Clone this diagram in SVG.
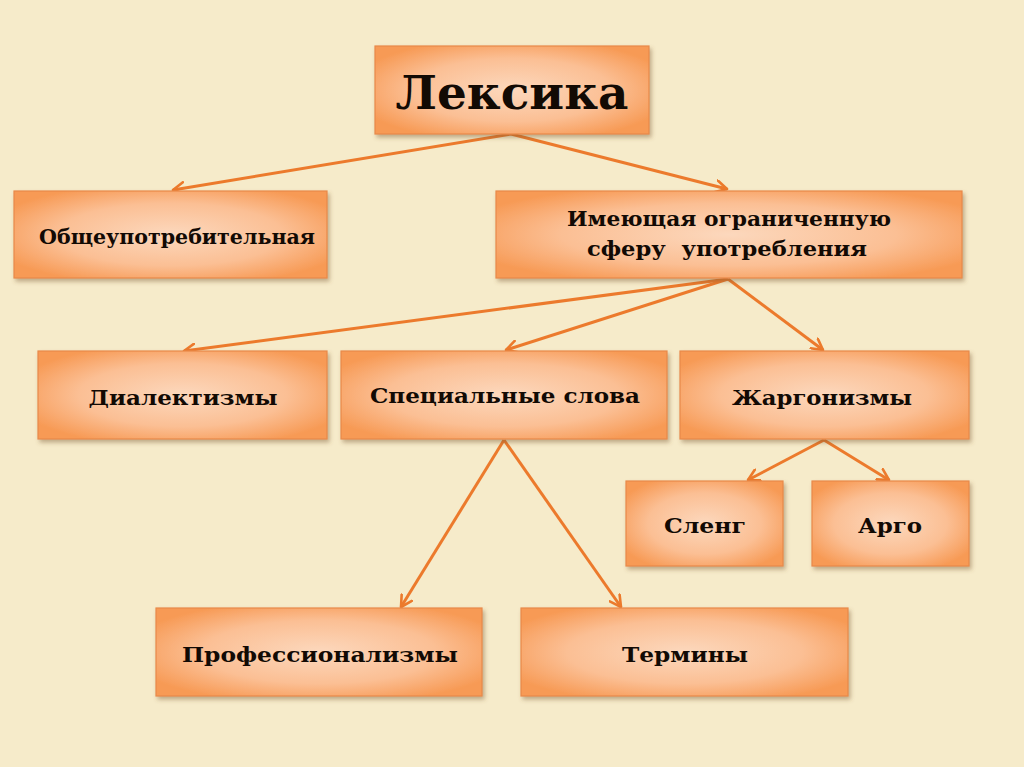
<svg xmlns="http://www.w3.org/2000/svg" width="1024" height="767" viewBox="0 0 1024 767">
<defs>
<radialGradient id="g" cx="0.5" cy="0.5" r="0.6">
<stop offset="0" stop-color="#fcd8bd"/>
<stop offset="0.6" stop-color="#fbbf94"/>
<stop offset="1" stop-color="#f79a55"/>
</radialGradient>
<filter id="sh" x="-10%" y="-10%" width="125%" height="130%">
<feDropShadow dx="2" dy="3" stdDeviation="2" flood-color="#7a5a30" flood-opacity="0.45"/>
</filter>
<marker id="a" viewBox="0 0 14 14" refX="12" refY="7" markerWidth="14" markerHeight="14" markerUnits="userSpaceOnUse" orient="auto">
<path d="M1,1 L12,7 L1,13" fill="none" stroke="#ec7a2c" stroke-width="2.6" stroke-linecap="round" stroke-linejoin="round"/>
</marker>
</defs>
<style>
.box{fill:url(#g);stroke:#e8894a;stroke-width:1.2;filter:url(#sh)}
.t{font-family:"DejaVu Serif","Liberation Serif",serif;font-weight:bold;fill:#120a04;text-anchor:middle;font-size:20px;white-space:pre}
.c{stroke:#ec7a2c;stroke-width:3;fill:none;marker-end:url(#a)}
</style>
<rect width="1024" height="767" fill="#f6ebca"/>
<g id="connectors">
<line class="c" x1="511" y1="134" x2="173" y2="190"/>
<line class="c" x1="511" y1="134" x2="727" y2="189"/>
<line class="c" x1="728" y1="279" x2="184" y2="351"/>
<line class="c" x1="728" y1="279" x2="506" y2="350"/>
<line class="c" x1="728" y1="279" x2="823" y2="350"/>
<line class="c" x1="824" y1="440" x2="748" y2="480"/>
<line class="c" x1="824" y1="440" x2="889" y2="480"/>
<line class="c" x1="504" y1="440" x2="401" y2="607"/>
<line class="c" x1="504" y1="440" x2="621" y2="607"/>
</g>
<g id="leksika"><rect class="box" x="375" y="46" width="274" height="88"/><text class="t" x="512" y="109" style="font-size:46px" textLength="233" lengthAdjust="spacingAndGlyphs">Лексика</text></g>
<g id="obshch"><rect class="box" x="14" y="191" width="313" height="87"/><text class="t" x="177" y="244" textLength="276" lengthAdjust="spacingAndGlyphs">Общеупотребительная</text></g>
<g id="ogran"><rect class="box" x="496" y="191" width="466" height="87"/><text class="t" x="729" y="226" textLength="324" lengthAdjust="spacingAndGlyphs">Имеющая ограниченную</text><text class="t" x="727" y="256" textLength="280" lengthAdjust="spacingAndGlyphs" xml:space="preserve">сферу  употребления</text></g>
<g id="dialekt"><rect class="box" x="38" y="351" width="289" height="88"/><text class="t" x="183" y="405" textLength="189" lengthAdjust="spacingAndGlyphs">Диалектизмы</text></g>
<g id="spec"><rect class="box" x="341" y="351" width="326" height="88"/><text class="t" x="505" y="403" textLength="270" lengthAdjust="spacingAndGlyphs">Специальные слова</text></g>
<g id="zhargon"><rect class="box" x="680" y="351" width="289" height="88"/><text class="t" x="822" y="405" textLength="180" lengthAdjust="spacingAndGlyphs">Жаргонизмы</text></g>
<g id="sleng"><rect class="box" x="626" y="481" width="157" height="85"/><text class="t" x="705" y="533" textLength="82" lengthAdjust="spacingAndGlyphs">Сленг</text></g>
<g id="argo"><rect class="box" x="812" y="481" width="157" height="85"/><text class="t" x="890" y="533" textLength="64" lengthAdjust="spacingAndGlyphs">Арго</text></g>
<g id="prof"><rect class="box" x="156" y="608" width="326" height="88"/><text class="t" x="320" y="662" textLength="276" lengthAdjust="spacingAndGlyphs">Профессионализмы</text></g>
<g id="terminy"><rect class="box" x="521" y="608" width="327" height="88"/><text class="t" x="685" y="662" textLength="126" lengthAdjust="spacingAndGlyphs">Термины</text></g>
</svg>
